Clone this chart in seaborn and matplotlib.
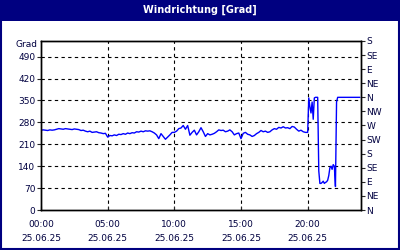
import numpy as np
import pandas as pd
import matplotlib
matplotlib.use("Agg")
import matplotlib.pyplot as plt
from matplotlib.patches import Rectangle
import seaborn as sns

# 10-minute values 00:00 - 19:50
deg_day = [
    255, 256, 255, 254, 256, 255,
    256, 258, 260, 259, 258, 260,
    259, 258, 257, 259, 258, 257,
    254, 255, 252, 250, 252, 248,
    249, 250, 247, 246, 244, 245,
    233, 238, 237, 240, 238, 242,
    241, 244, 242, 246, 244, 247,
    246, 250, 249, 252, 250, 253,
    252, 253, 250, 246, 240, 228,
    244, 235, 226, 233, 240, 248,
    248, 252, 260, 262, 270, 258,
    270, 239, 248, 255, 240, 250,
    263, 250, 235, 244, 240, 242,
    245, 250, 256, 254, 255, 250,
    252, 256, 250, 240, 244, 246,
    228, 245, 248, 242, 240, 235,
    238, 244, 248, 254, 250, 252,
    248, 250, 256, 260, 258, 264,
    262, 266, 262, 263, 260, 267,
    265, 258, 252, 255, 250, 248,
]
# 5-minute values 20:00 - 23:55
deg_evening = [
    248, 358, 330, 310, 345, 290, 358, 360, 360, 360, 125, 85,
    85, 88, 92, 85, 88, 90, 95, 110, 135, 140, 130, 145,
    140, 75, 345, 360, 360, 360, 360, 360, 360, 360, 360, 360,
    360, 360, 360, 360, 360, 360, 360, 360, 360, 360, 360, 360,
]
hours_day = np.arange(0, 20, 1 / 6)
hours_evening = np.arange(20, 24, 1 / 12)

left_ticks = [0, 70, 140, 210, 280, 350, 420, 490]
right_ticks = [0, 45, 90, 135, 180, 225, 270, 315, 360, 405, 450, 495, 540]
right_labels = ["N", "NE", "E", "SE", "S", "SW", "W", "NW", "N", "NE", "E", "SE", "S"]
x_ticks = [0, 5, 10, 15, 20]
x_labels = ["00:00\n25.06.25", "05:00\n25.06.25", "10:00\n25.06.25",
            "15:00\n25.06.25", "20:00\n25.06.25"]
title = "Windrichtung [Grad]"

df = pd.DataFrame({
    "h": np.concatenate([hours_day[:len(deg_day)], hours_evening[:len(deg_evening)]]),
    "deg": deg_day + deg_evening,
})

sns.set_style("white")
plt.rcParams["font.family"] = ["DejaVu Sans"]
navy = "#000080"
fs = 6.5

fig = plt.figure(figsize=(4, 2.5), dpi=100)
fig.patch.set_facecolor("white")
ax = fig.add_axes([41 / 400, 40 / 250, 320 / 400, 169 / 250])

sns.lineplot(data=df, x="h", y="deg", ax=ax, color="#0000ff", linewidth=1.0)

ax.set_xlim(0, 24)
ax.set_ylim(0, 540)
ax.set_xticks(x_ticks)
ax.set_xticklabels(x_labels, fontsize=fs, color="#000040", linespacing=1.75)
ax.set_xticks(range(0, 25), minor=True)
ax.set_yticks(left_ticks)
ax.set_yticklabels([str(v) for v in left_ticks], fontsize=fs, color="#000040")
ax.set_xlabel("")
ax.set_ylabel("")
dash = (0, (3, 3))
for v in left_ticks[1:]:
    ax.axhline(v, color="black", linewidth=0.8, linestyle=dash, zorder=0)
for v in x_ticks[1:]:
    ax.axvline(v, color="black", linewidth=0.8, linestyle=dash, zorder=0)
ax.tick_params(axis="y", which="major", direction="out", length=3, width=0.8, pad=1)
ax.tick_params(axis="x", which="minor", direction="in", length=3, width=0.8)
ax.tick_params(axis="x", which="major", bottom=True, length=3, width=0.8,
               direction="in", pad=7)
for s in ax.spines.values():
    s.set_color("black")
    s.set_linewidth(1.0)

ax2 = ax.twinx()
ax2.set_ylim(0, 540)
ax2.set_yticks(right_ticks)
ax2.set_yticklabels(right_labels, fontsize=fs, color="#000040")
ax2.tick_params(axis="y", direction="out", length=3, width=0.8, pad=1)
for s in ax2.spines.values():
    s.set_color("black")
    s.set_linewidth(1.0)

fig.text(37 / 400, 1 - 45 / 250, "Grad", ha="right", va="center", fontsize=fs, color="#000040")

fig.patches.append(Rectangle((0, 1 - 21 / 250), 1, 21 / 250, transform=fig.transFigure,
                             facecolor=navy, edgecolor="none", zorder=-1))
fig.patches.append(Rectangle((0.0025, 0.004), 0.995, 0.992, transform=fig.transFigure,
                             facecolor="none", edgecolor=navy, linewidth=1.5, zorder=5))
fig.text(0.5, 1 - 10 / 250, title, ha="center", va="center", fontsize=7,
         fontweight="bold", color="white")

fig.savefig("out.png", dpi=100)
